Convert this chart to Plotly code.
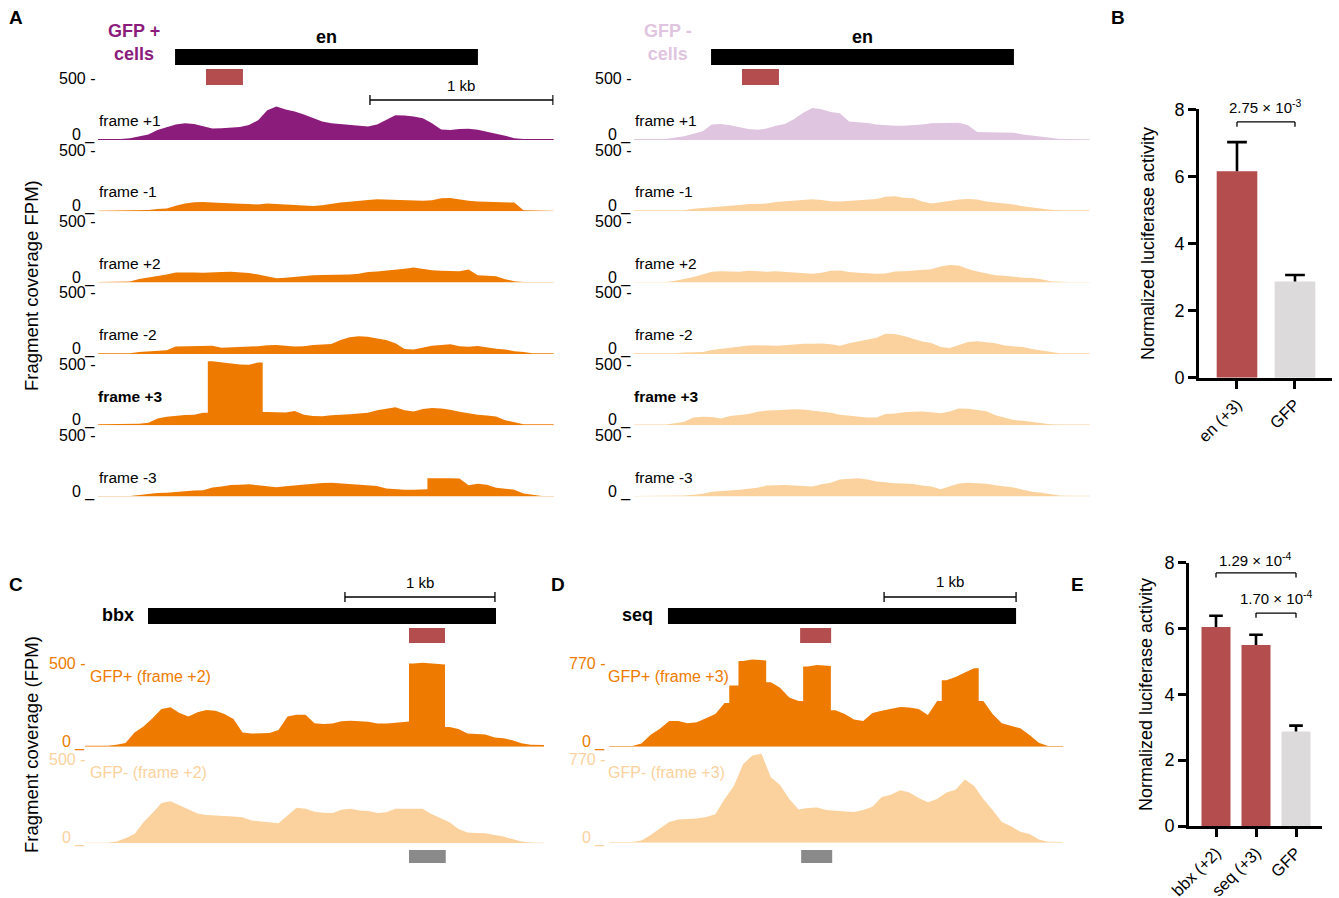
import numpy as np
import plotly.graph_objects as go

W, H = 1339, 898
FONT = "Liberation Sans, Arial, sans-serif"

PURPLE = "#8B1C7C"
LILAC = "#DFC5DF"
ORANGE = "#EE7B00"
PEACH = "#FBD29D"
BRICK = "#B44D4D"
GREY_BOX = "#8A8A8A"
GFP_BAR = "#DCDADB"

# ---------------- Panel A: en locus, fragment coverage (FPM) in 50-bp bins
EN_BIN = 50
en_pos_f1 = [8, 8, 8, 15, 30, 45, 80, 100, 125, 135, 130, 110, 92, 95, 100, 105, 120, 160, 240, 270,
             245, 230, 205, 175, 150, 135, 128, 122, 112, 108, 125, 160, 200, 198, 190, 175, 135, 85, 80, 88,
             90, 82, 68, 50, 35, 15, 8, 8, 8, 8]
en_pos_m1 = [5, 5, 5, 5, 5, 10, 18, 22, 45, 62, 72, 75, 70, 65, 62, 60, 58, 55, 62, 58,
             52, 50, 45, 42, 48, 62, 70, 78, 88, 92, 98, 95, 92, 90, 88, 86, 90, 105, 108, 95,
             85, 80, 78, 75, 72, 70, 8, 5, 5, 5]
en_pos_f2 = [5, 5, 5, 8, 30, 40, 55, 65, 82, 85, 82, 80, 85, 86, 88, 82, 78, 65, 50, 36,
             40, 48, 55, 60, 62, 64, 60, 66, 72, 85, 90, 96, 102, 112, 122, 108, 100, 96, 95, 92,
             105, 60, 56, 52, 28, 10, 5, 5, 5, 5]
en_pos_m2 = [5, 5, 5, 5, 15, 22, 27, 30, 60, 62, 64, 66, 66, 50, 52, 55, 58, 62, 70, 72,
             65, 60, 62, 72, 75, 80, 112, 135, 142, 138, 125, 112, 85, 40, 35, 52, 65, 72, 78, 62,
             58, 64, 52, 42, 36, 22, 15, 5, 5, 5]
en_pos_f3 = [8, 8, 8, 8, 12, 20, 55, 68, 78, 82, 84, 100, 515, 505, 500, 490, 488, 505, 106, 104,
             102, 115, 85, 75, 72, 80, 82, 88, 95, 100, 120, 130, 145, 120, 110, 130, 138, 135, 125, 108,
             95, 85, 78, 70, 40, 22, 8, 8, 8, 8]
en_pos_m3 = [5, 5, 5, 5, 12, 22, 28, 30, 38, 45, 48, 50, 72, 80, 92, 95, 98, 90, 80, 75,
             82, 90, 95, 100, 108, 110, 105, 95, 90, 88, 85, 65, 58, 55, 55, 58, 148, 152, 148, 145,
             90, 102, 95, 70, 62, 55, 25, 15, 5, 5]

en_neg_f1 = [8, 8, 8, 8, 20, 30, 50, 70, 125, 130, 118, 100, 88, 82, 92, 115, 130, 170, 220, 258,
             248, 225, 215, 150, 145, 138, 125, 118, 115, 114, 118, 125, 135, 138, 140, 140, 118, 65, 62, 62,
             60, 58, 45, 38, 30, 18, 8, 6, 6, 6]
en_neg_m1 = [8, 8, 8, 8, 8, 8, 20, 25, 30, 38, 45, 50, 58, 60, 62, 75, 80, 85, 95, 98,
             92, 82, 80, 85, 90, 92, 100, 118, 122, 110, 105, 80, 62, 72, 85, 95, 100, 95, 80, 72,
             62, 55, 40, 30, 22, 12, 8, 8, 8, 8]
en_neg_f2 = [5, 5, 5, 5, 15, 28, 45, 65, 88, 92, 90, 88, 96, 90, 88, 92, 88, 85, 75, 72,
             80, 95, 98, 85, 80, 75, 72, 74, 90, 92, 96, 98, 108, 130, 142, 138, 110, 90, 75, 60,
             55, 45, 40, 38, 28, 10, 5, 5, 5, 5]
en_neg_m2 = [5, 5, 5, 5, 5, 12, 14, 15, 32, 42, 50, 62, 68, 70, 68, 65, 70, 78, 82, 82,
             84, 78, 65, 85, 100, 115, 130, 162, 160, 145, 120, 100, 88, 55, 48, 72, 95, 102, 95, 85,
             68, 62, 55, 40, 28, 15, 5, 5, 5, 5]
en_neg_f3 = [5, 5, 5, 5, 15, 28, 62, 68, 66, 55, 75, 85, 90, 108, 118, 120, 125, 128, 126, 118,
             112, 100, 85, 78, 65, 62, 62, 90, 95, 105, 108, 110, 105, 96, 110, 135, 132, 125, 112, 80,
             62, 42, 35, 25, 18, 8, 5, 5, 5, 5]
en_neg_m3 = [5, 5, 5, 5, 5, 8, 14, 22, 38, 42, 48, 55, 62, 70, 88, 92, 92, 88, 84, 80,
             98, 110, 138, 142, 148, 138, 120, 115, 106, 104, 100, 88, 80, 58, 82, 105, 110, 108, 102, 90,
             80, 72, 55, 38, 30, 18, 8, 6, 6, 6]

frame_names = ["frame +1", "frame -1", "frame +2", "frame -2", "frame +3", "frame -3"]
en_pos_tracks = [en_pos_f1, en_pos_m1, en_pos_f2, en_pos_m2, en_pos_f3, en_pos_m3]
en_neg_tracks = [en_neg_f1, en_neg_m1, en_neg_f2, en_neg_m2, en_neg_f3, en_neg_m3]

# ---------------- Panel C: bbx locus, frame +2, 60-bp bins
BBX_BIN = 60
bbx_pos = [6, 6, 6, 12, 22, 85, 120, 170, 225, 235, 200, 180, 205, 218, 214, 195, 165, 85, 78, 80,
           82, 100, 180, 190, 190, 140, 135, 138, 152, 155, 152, 148, 138, 138, 143, 150, 495, 500, 495, 490,
           118, 105, 78, 75, 72, 55, 50, 38, 20, 12, 10]
bbx_neg = [4, 4, 4, 10, 30, 55, 125, 180, 240, 250, 225, 200, 178, 168, 163, 162, 160, 155, 135, 130,
           122, 120, 165, 212, 205, 188, 182, 180, 200, 205, 195, 192, 180, 185, 205, 205, 202, 205, 175, 150,
           125, 85, 65, 62, 60, 50, 40, 25, 10, 5, 4]

# ---------------- Panel D: seq locus, frame +3, 70-bp bins
SEQ_BIN = 70
seq_pos = [6, 6, 6, 30, 110, 165, 235, 235, 215, 225, 260, 300, 400, 560, 785, 800, 790, 590, 540, 450,
           420, 735, 748, 740, 335, 300, 250, 235, 310, 330, 345, 365, 360, 345, 290, 420, 610, 640, 680, 720,
           420, 300, 214, 190, 168, 107, 37, 6, 6, 6]
seq_neg = [6, 6, 6, 20, 70, 130, 190, 212, 215, 222, 236, 260, 400, 520, 720, 800, 815, 600, 530, 400,
           305, 318, 322, 300, 292, 285, 282, 300, 330, 420, 440, 480, 460, 410, 370, 400, 460, 485, 580, 520,
           400, 300, 190, 150, 100, 80, 30, 8, 6, 6]

# ---------------- Panels B and E: luciferase reporter assays
b_labels = ["en (+3)", "GFP"]
b_means = [6.15, 2.87]
b_errs = [0.87, 0.19]
e_labels = ["bbx (+2)", "seq (+3)", "GFP"]
e_means = [6.05, 5.50, 2.87]
e_errs = [0.34, 0.31, 0.18]

fig = go.Figure()
axes = {}
axis_count = 0


def px(x):
    return x / W


def py(y):
    return 1 - y / H


def new_axes(xdom, ydom, xr, yr):
    global axis_count
    axis_count += 1
    s = "" if axis_count == 1 else str(axis_count)
    axes["xaxis" + s] = dict(domain=xdom, range=xr, visible=False, anchor="y" + s, fixedrange=True)
    axes["yaxis" + s] = dict(domain=ydom, range=yr, visible=False, anchor="x" + s, fixedrange=True)
    return "x" + s, "y" + s


def coverage_path(values, bin_bp, jump):
    """Outline through bin centres; abrupt coverage changes become vertical walls at bin edges."""
    xs, ys = [0.0], [values[0]]
    for i, v in enumerate(values):
        if jump is not None and i > 0 and abs(v - values[i - 1]) > jump:
            edge = bin_bp * i
            xs += [edge, edge]
            ys += [values[i - 1], v]
        xs.append(bin_bp * (i + 0.5))
        ys.append(v)
    xs.append(bin_bp * len(values))
    ys.append(values[-1])
    return xs, ys


def coverage_track(values, bin_bp, window_bp, x_left, x_right, base_y, full_px, full_val, color,
                   sharp=True):
    ymax = full_val * 1.15
    top_y = base_y - full_px * ymax / full_val
    xa, ya = new_axes([px(x_left), px(x_right)], [py(base_y), py(top_y)], [0, window_bp], [0, ymax])
    xs, ys = coverage_path(values, bin_bp, 0.17 * full_val if sharp else None)
    fig.add_trace(go.Scatter(
        x=xs, y=ys, mode="lines",
        line=dict(width=0, shape="linear", color=color), fill="tozeroy", fillcolor=color,
        xaxis=xa, yaxis=ya, hoverinfo="skip", showlegend=False))
    return xa


def text(x, y, s, size=15, color="black", bold=False, xanchor="center", yanchor="middle", angle=0):
    fig.add_annotation(
        x=px(x), y=py(y), xref="paper", yref="paper", text=f"<b>{s}</b>" if bold else s,
        showarrow=False, font=dict(size=size, color=color, family=FONT),
        xanchor=xanchor, yanchor=yanchor, textangle=angle, borderpad=0)


def data_text(xref, x, y, s, size):
    fig.add_annotation(x=x, y=py(y), xref=xref, yref="paper", text=s, showarrow=False,
                       xanchor="center", yanchor="middle",
                       font=dict(size=size, family=FONT, color="black"))


def rect(xref, x0, x1, y_top, y_bot, color):
    fig.add_shape(type="rect", xref=xref, yref="paper", x0=x0, x1=x1,
                  y0=py(y_bot), y1=py(y_top), fillcolor=color, line_width=0)


def scale_bar(xref, x0, x1, y, label, label_y):
    line = dict(color="black", width=1.3)
    fig.add_shape(type="line", xref=xref, yref="paper", x0=x0, x1=x1, y0=py(y), y1=py(y), line=line)
    for xx in (x0, x1):
        fig.add_shape(type="line", xref=xref, yref="paper", x0=xx, x1=xx,
                      y0=py(y - 5), y1=py(y + 5), line=line)
    data_text(xref, (x0 + x1) / 2, label_y, label, 15)


# ---------------- Panel A
EN_WINDOW = 2490
A_BASES = [140 + 71.3 * k for k in range(6)]
columns = [
    (98, 553.7, en_pos_tracks, PURPLE, "GFP +<br>cells", 107),
    (634, 1089.7, en_neg_tracks, LILAC, "GFP -<br>cells", 643),
]
for ci, (xl, xr, tracks, first_color, cell_label, cell_x) in enumerate(columns):
    first_x = None
    for k, (vals, name) in enumerate(zip(tracks, frame_names)):
        if ci == 0:
            col = PURPLE if k == 0 else ORANGE
        else:
            col = LILAC if k == 0 else PEACH
        xa = coverage_track(vals, EN_BIN, EN_WINDOW, xl, xr, A_BASES[k], 62, 500, col)
        if first_x is None:
            first_x = xa
        base = A_BASES[k]
        bold = name == "frame +3"
        text(xl - 1 if bold else xl, base - (29 if bold else 19.5), name, size=15.5, bold=bold,
             xanchor="left")
        text(xl - 2, base - 61, "500 -", size=16, xanchor="right")
        text(xl - 2, base - 5, "0 _", size=16, xanchor="right")
    rect(first_x, 421, 2076, 49, 65, "black")
    rect(first_x, 590, 792, 69, 85, BRICK)
    data_text(first_x, (421 + 2076) / 2, 37, "<b>en</b>", 18)
    text(cell_x, 42, f"<b>{cell_label}</b>", size=18, color=first_color, xanchor="left")
    if ci == 0:
        scale_bar(first_x, 1486, 2486, 100, "1 kb", 86)

text(31, 286, "Fragment coverage FPM)", size=18.5, angle=-90)

# ---------------- Panel C (bbx)
C_WINDOW = 3060
xc = coverage_track(bbx_pos, BBX_BIN, C_WINDOW, 85, 544, 746.7, 84, 500, ORANGE)
coverage_track(bbx_neg, BBX_BIN, C_WINDOW, 85, 544, 843.3, 84, 500, PEACH, sharp=False)
rect(xc, 420, 2740, 608, 624, "black")
rect(xc, 2160, 2400, 628, 643, BRICK)
rect(xc, 2160, 2405, 850, 863, GREY_BOX)
scale_bar(xc, 1733, 2733, 597, "1 kb", 582)
text(118, 615, "bbx", size=18, bold=True)
text(86, 663, "500 -", size=16, color=ORANGE, xanchor="right")
text(86, 742, "0 _", size=16, color=ORANGE, xanchor="right")
text(89, 676, "GFP+ (frame +2)", size=16, color=ORANGE, xanchor="left")
text(86, 759, "500 -", size=16, color=PEACH, xanchor="right")
text(86, 838, "0 _", size=16, color=PEACH, xanchor="right")
text(89, 772, "GFP- (frame +2)", size=16, color=PEACH, xanchor="left")
text(31, 745, "Fragment coverage (FPM)", size=18.5, angle=-90)

# ---------------- Panel D (seq)
D_WINDOW = 3440
xd = coverage_track(seq_pos, SEQ_BIN, D_WINDOW, 609.1, 1063.2, 746.7, 84, 770, ORANGE)
coverage_track(seq_neg, SEQ_BIN, D_WINDOW, 609.1, 1063.2, 842.7, 84, 770, PEACH, sharp=False)
rect(xd, 446, 3083, 608, 624, "black")
rect(xd, 1447, 1682, 628, 643, BRICK)
rect(xd, 1455, 1690, 850, 863, GREY_BOX)
scale_bar(xd, 2083, 3083, 597, "1 kb", 581)
text(637, 615, "seq", size=18, bold=True)
text(606, 663, "770 -", size=16, color=ORANGE, xanchor="right")
text(606, 742, "0 _", size=16, color=ORANGE, xanchor="right")
text(607, 676, "GFP+ (frame +3)", size=16, color=ORANGE, xanchor="left")
text(606, 759, "770 -", size=16, color=PEACH, xanchor="right")
text(606, 838, "0 _", size=16, color=PEACH, xanchor="right")
text(607, 772, "GFP- (frame +3)", size=16, color=PEACH, xanchor="left")


# ---------------- Bar panels
def bar_panel(labels, means, errs, colors, x_left, x_right, y_zero, y_eight, xr, bar_w):
    xa, ya = new_axes([px(x_left), px(x_right)], [py(y_zero), py(y_eight)], xr, [0, 8])
    kx = "xaxis" + xa[1:]
    ky = "yaxis" + ya[1:]
    axis_style = dict(visible=True, showline=True, linewidth=2.6, linecolor="black", ticks="outside",
                      ticklen=8, tickwidth=2.6, tickcolor="black", showgrid=False, zeroline=False,
                      automargin=False)
    axes[kx].update(axis_style, type="category", tickangle=-45,
                    tickfont=dict(size=16.5, family=FONT, color="black"))
    axes[ky].update(axis_style, tickvals=[0, 2, 4, 6, 8],
                    tickfont=dict(size=18, family=FONT, color="black"))
    fig.add_trace(go.Bar(
        x=labels, y=means, width=bar_w, marker=dict(color=colors, line_width=0),
        xaxis=xa, yaxis=ya, showlegend=False, hoverinfo="skip"))
    # upper error whiskers (mean to mean + error, with a cap)
    whisker = dict(color="black", width=2.6)
    for i, (m, e) in enumerate(zip(means, errs)):
        fig.add_shape(type="line", xref=xa, yref=ya, x0=i, x1=i, y0=m, y1=m + e, line=whisker)
        fig.add_shape(type="line", xref=xa, yref=ya, x0=i - 0.17, x1=i + 0.17, y0=m + e, y1=m + e,
                      line=whisker)
    return xa, ya


def bracket(xa, ya, i0, i1, yv, label, label_x, label_y):
    line = dict(color="black", width=1.3)
    fig.add_shape(type="line", xref=xa, yref=ya, x0=i0, x1=i1, y0=yv, y1=yv, line=line)
    for ii in (i0, i1):
        fig.add_shape(type="line", xref=xa, yref=ya, x0=ii, x1=ii, y0=yv, y1=yv - 0.14, line=line)
    text(label_x, label_y, label, size=15)


xb, yb = bar_panel(b_labels, b_means, b_errs, [BRICK, GFP_BAR], 1199, 1332, 377.7, 109.2,
                   [-0.655, 1.638], 0.70)
bracket(xb, yb, 0, 1, 7.62, "2.75 × 10<sup>-3</sup>", 1265, 106)
text(1148, 244, "Normalized luciferase activity", size=18, angle=-90)

xe, ye = bar_panel(e_labels, e_means, e_errs, [BRICK, BRICK, GFP_BAR], 1189, 1322, 826, 562.7,
                   [-0.675, 2.65], 0.725)
bracket(xe, ye, 0, 2, 7.69, "1.29 × 10<sup>-4</sup>", 1255, 559)
bracket(xe, ye, 1, 2, 6.47, "1.70 × 10<sup>-4</sup>", 1276, 597)
text(1146, 695, "Normalized luciferase activity", size=18, angle=-90)

# ---------------- Panel letters
for letter, lx, ly in [("A", 16, 18), ("B", 1118, 18), ("C", 16, 584), ("D", 558, 584), ("E", 1077, 584)]:
    text(lx, ly, letter, size=19, bold=True)

fig.update_layout(
    width=W, height=H, margin=dict(l=0, r=0, t=0, b=0), autosize=False,
    paper_bgcolor="white", plot_bgcolor="rgba(0,0,0,0)", template="none",
    showlegend=False, font=dict(family=FONT, color="black"), **axes)

fig.write_html("out.html")
